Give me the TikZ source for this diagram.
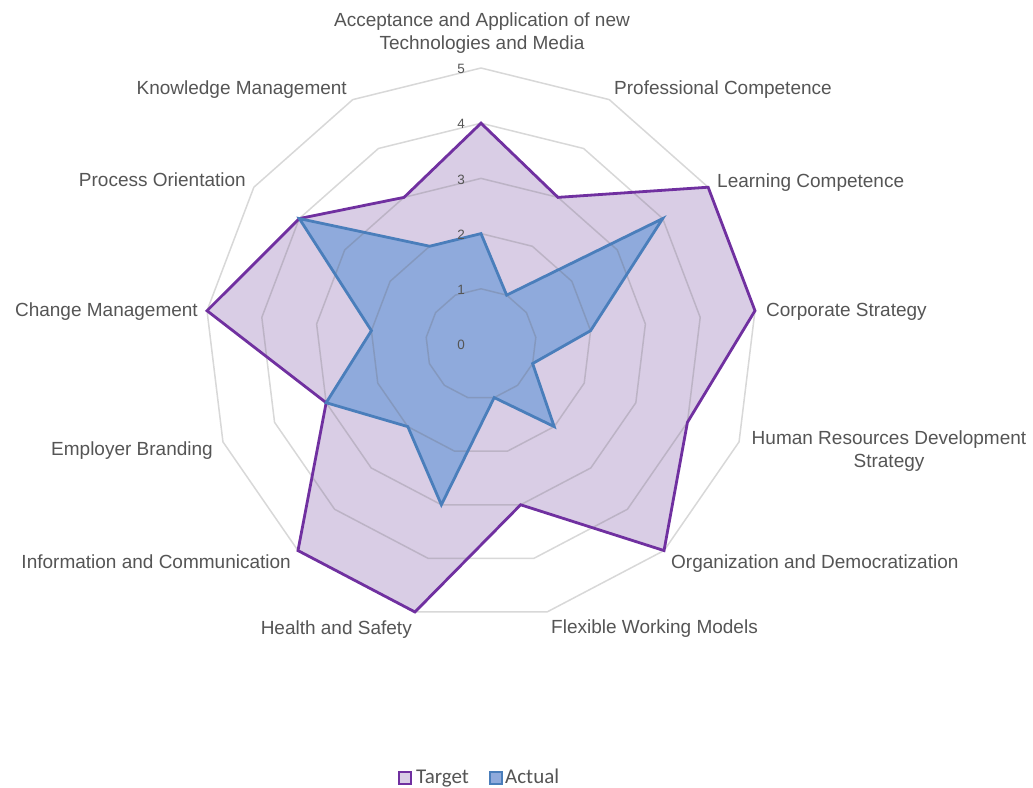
\documentclass[tikz,border=0pt]{standalone}
\usepackage{fontspec}
\setmainfont{Liberation Sans}
\newfontfamily\legendfont{Carlito}
\definecolor{labelgray}{HTML}{555555}
\definecolor{tgtline}{HTML}{7030A0}
\definecolor{tgtfill}{HTML}{D9CDE5}
\definecolor{actline}{HTML}{4A7EBB}
\definecolor{actfill}{HTML}{8FAADC}
\tikzset{
  gridline/.style={draw=black!60, draw opacity=0.25, line width=1.5pt, line join=round},
  tgtstroke/.style={draw=tgtline, line width=2.8pt, line join=miter},
  actstroke/.style={draw=actline, line width=2.8pt, line join=miter},
  axlabel/.style={text=labelgray, font=\fontsize{19}{23}\selectfont, inner sep=0pt},
  vallabel/.style={text=labelgray, font=\fontsize{13.5}{16}\selectfont, inner sep=0pt, anchor=east},
  legbox/.style={minimum size=12pt, inner sep=0pt, line width=2pt},
  legtext/.style={text=labelgray, font=\legendfont\fontsize{21}{25}\selectfont, inner sep=0pt, anchor=base west}
}
\begin{document}
\begin{tikzpicture}[x=1pt,y=1pt]
\useasboundingbox (0,0) rectangle (1033,787);
\fill[white] (0,0) rectangle (1033,787);
\def\U{55.2}
\begin{scope}[shift={(481,443)}]
  \foreach \v [count=\i from 0] in {4,3,5,5,4,5,3,5,5,3,5,4,3}
    \coordinate (t\i) at ({90-\i*360/13}:{\v*\U});
  \foreach \v [count=\i from 0] in {2,1,4,2,1,2,1,3,2,3,2,4,2}
    \coordinate (a\i) at ({90-\i*360/13}:{\v*\U});
  % fills
  \fill[tgtfill] (t0) \foreach \i in {1,...,12}{ -- (t\i) } -- cycle;
  \fill[actfill] (a0) \foreach \i in {1,...,12}{ -- (a\i) } -- cycle;
  % grid rings
  \foreach \r in {1,...,5}{
    \draw[gridline] ({90}:{\r*\U}) \foreach \i in {1,...,12}{ -- ({90-\i*360/13}:{\r*\U}) } -- cycle;
  }
  % strokes
  \draw[tgtstroke] (t0) \foreach \i in {1,...,12}{ -- (t\i) } -- cycle;
  \draw[actstroke] (a0) \foreach \i in {1,...,12}{ -- (a\i) } -- cycle;
  % value labels
  \foreach \r in {0,...,5}
    \node[vallabel] (v\r) at (-16,{\r*\U-1}) {\r};
\end{scope}
% axis labels (y = 787 - image y)
\node[axlabel, anchor=north, align=center] (l0) at (482,774) {Acceptance and Application of new\\Technologies and Media};
\node[axlabel, anchor=base west] (l1) at (614,692.5) {Professional Competence};
\node[axlabel, anchor=base west] (l2) at (717,599.5) {Learning Competence};
\node[axlabel, anchor=base west] (l3) at (766,470) {Corporate Strategy};
\node[axlabel, anchor=north, align=center] (l4) at (889,356.6) {Human Resources Development\\Strategy};
\node[axlabel, anchor=base west] (l5) at (671,218) {Organization and Democratization};
\node[axlabel, anchor=base west] (l6) at (551,153) {Flexible Working Models};
\node[axlabel, anchor=base east] (l7) at (412,152) {Health and Safety};
\node[axlabel, anchor=base east] (l8) at (291,218) {Information and Communication};
\node[axlabel, anchor=base east] (l9) at (213,331) {Employer Branding};
\node[axlabel, anchor=base east] (l10) at (198,470) {Change Management};
\node[axlabel, anchor=base east] (l11) at (246,600) {Process Orientation};
\node[axlabel, anchor=base east] (l12) at (347,692.5) {Knowledge Management};
% legend
\node[legbox, draw=tgtline, fill=tgtfill] (lgt) at (405,9.5) {};
\node[legtext] (lgtt) at (416,4) {Target};
\node[legbox, draw=actline, fill=actfill] (lga) at (495.5,9.5) {};
\node[legtext] (lgat) at (505,4) {Actual};
\end{tikzpicture}
\end{document}
